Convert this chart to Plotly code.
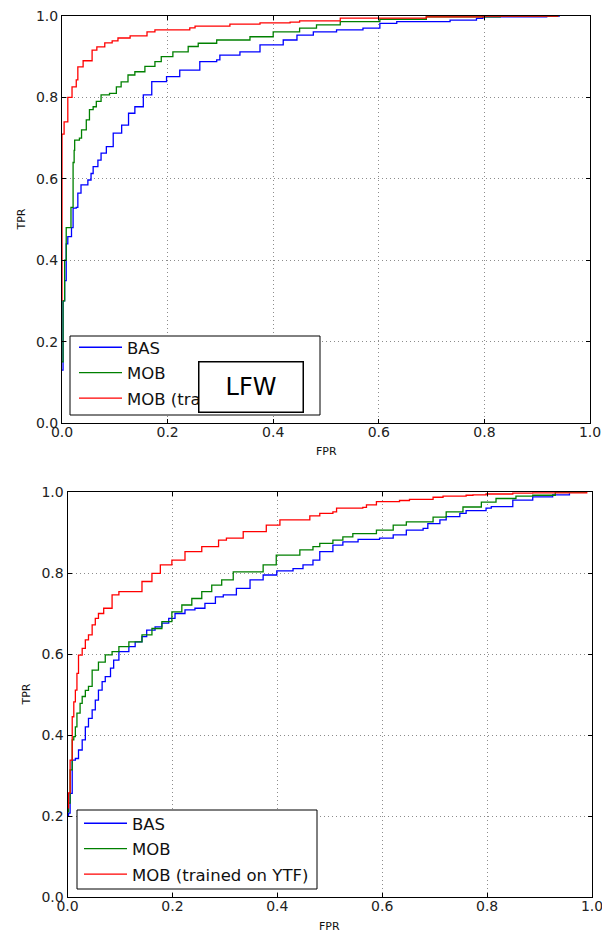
import plotly.graph_objects as go

# Figure fills the whole 602x938 window (the page body margin is removed
# by a small post script so nothing overflows).
WIN_W, WIN_H = 602, 938
OFF = 0
W, H = WIN_W - OFF, WIN_H - OFF

# ---------------- data ----------------
series_names = ["BAS", "MOB", "MOB (trained on YTF)"]
series_colors = ["#0000ff", "#008000", "#ff0000"]

# Top chart (LFW)
lfw_bas_fpr = [0.0, 0.002, 0.005, 0.008, 0.011, 0.018, 0.021, 0.027, 0.030, 0.036, 0.043, 0.049, 0.055,
               0.059, 0.068, 0.074, 0.084, 0.097, 0.113, 0.126, 0.138, 0.154, 0.170, 0.198, 0.223, 0.261,
               0.293, 0.299, 0.337, 0.375, 0.419, 0.445, 0.476, 0.520, 0.570, 0.602, 0.634, 0.735, 0.785,
               0.797, 0.918, 0.943]
lfw_bas_tpr = [0.13, 0.30, 0.35, 0.44, 0.458, 0.48, 0.528, 0.53, 0.565, 0.585, 0.585, 0.597, 0.613,
               0.63, 0.646, 0.663, 0.679, 0.712, 0.732, 0.761, 0.777, 0.806, 0.839, 0.851, 0.867, 0.888,
               0.892, 0.904, 0.912, 0.929, 0.941, 0.953, 0.961, 0.966, 0.970, 0.982, 0.986, 0.990, 0.994,
               0.998, 1.0, 1.0]

lfw_mob_fpr = [0.0, 0.002, 0.005, 0.008, 0.017, 0.017, 0.021, 0.021, 0.023, 0.024, 0.033, 0.037, 0.046,
               0.052, 0.059, 0.065, 0.074, 0.090, 0.103, 0.112, 0.125, 0.138, 0.157, 0.176, 0.188, 0.210,
               0.239, 0.258, 0.293, 0.356, 0.400, 0.450, 0.482, 0.527, 0.602, 0.690, 0.830, 0.940]
lfw_mob_tpr = [0.15, 0.30, 0.40, 0.48, 0.48, 0.53, 0.60, 0.64, 0.67, 0.695, 0.70, 0.72, 0.745,
               0.77, 0.777, 0.79, 0.806, 0.81, 0.826, 0.838, 0.855, 0.863, 0.876, 0.888, 0.90, 0.912,
               0.925, 0.933, 0.941, 0.949, 0.961, 0.970, 0.978, 0.986, 0.992, 0.998, 1.0, 1.0]

lfw_ytf_fpr = [0.0, 0.0, 0.004, 0.011, 0.019, 0.027, 0.030, 0.040, 0.049, 0.057, 0.066, 0.081, 0.095,
               0.106, 0.129, 0.152, 0.161, 0.176, 0.205, 0.242, 0.252, 0.318, 0.375, 0.432, 0.450, 0.527,
               0.690, 0.800, 0.940]
lfw_ytf_tpr = [0.30, 0.71, 0.74, 0.80, 0.826, 0.843, 0.875, 0.89, 0.89, 0.916, 0.924, 0.934, 0.939,
               0.946, 0.951, 0.951, 0.961, 0.966, 0.966, 0.971, 0.975, 0.980, 0.983, 0.985, 0.988, 0.995,
               0.998, 1.0, 1.0]

# Bottom chart (YTF)
ytf_bas_fpr = [0.0, 0.002, 0.005, 0.009, 0.015, 0.021, 0.028, 0.034, 0.040, 0.047, 0.053, 0.059, 0.066,
               0.072, 0.082, 0.088, 0.098, 0.117, 0.129, 0.142, 0.151, 0.167, 0.180, 0.193, 0.205, 0.224,
               0.243, 0.262, 0.282, 0.297, 0.322, 0.348, 0.373, 0.399, 0.430, 0.449, 0.468, 0.481, 0.506,
               0.525, 0.554, 0.595, 0.621, 0.646, 0.678, 0.687, 0.710, 0.722, 0.748, 0.760, 0.798, 0.808,
               0.849, 0.887, 0.925, 0.957]
ytf_bas_tpr = [0.20, 0.207, 0.256, 0.338, 0.342, 0.363, 0.388, 0.42, 0.441, 0.462, 0.486, 0.511, 0.532,
               0.544, 0.565, 0.585, 0.606, 0.618, 0.63, 0.643, 0.659, 0.667, 0.676, 0.688, 0.70, 0.709,
               0.713, 0.725, 0.741, 0.746, 0.762, 0.783, 0.795, 0.805, 0.811, 0.820, 0.832, 0.853, 0.869,
               0.877, 0.883, 0.886, 0.894, 0.906, 0.910, 0.922, 0.931, 0.939, 0.947, 0.954, 0.960, 0.964,
               0.980, 0.988, 0.993, 0.997]

ytf_mob_fpr = [0.0, 0.002, 0.005, 0.009, 0.012, 0.015, 0.018, 0.024, 0.028, 0.034, 0.040, 0.047, 0.053,
               0.059, 0.072, 0.085, 0.098, 0.117, 0.142, 0.161, 0.180, 0.199, 0.218, 0.237, 0.256, 0.275,
               0.294, 0.316, 0.373, 0.398, 0.443, 0.468, 0.481, 0.506, 0.525, 0.544, 0.589, 0.621, 0.646,
               0.697, 0.722, 0.754, 0.789, 0.817, 0.855, 0.887, 0.930, 0.990]
ytf_mob_tpr = [0.21, 0.232, 0.314, 0.388, 0.396, 0.42, 0.454, 0.478, 0.495, 0.51, 0.52, 0.56, 0.56,
               0.58, 0.598, 0.606, 0.618, 0.63, 0.647, 0.663, 0.68, 0.704, 0.721, 0.737, 0.754, 0.77,
               0.783, 0.803, 0.82, 0.844, 0.857, 0.865, 0.873, 0.881, 0.889, 0.897, 0.906, 0.918, 0.926,
               0.938, 0.951, 0.963, 0.975, 0.984, 0.990, 0.992, 1.0, 1.0]

ytf_ytf_fpr = [0.0, 0.002, 0.005, 0.009, 0.012, 0.015, 0.018, 0.021, 0.028, 0.034, 0.040, 0.047, 0.053,
               0.059, 0.069, 0.085, 0.098, 0.126, 0.142, 0.161, 0.177, 0.199, 0.224, 0.256, 0.288, 0.303,
               0.335, 0.379, 0.405, 0.462, 0.481, 0.506, 0.513, 0.563, 0.570, 0.589, 0.633, 0.652, 0.697,
               0.716, 0.760, 0.773, 0.798, 0.849, 0.887, 0.990]
ytf_ytf_tpr = [0.22, 0.257, 0.338, 0.445, 0.482, 0.511, 0.552, 0.597, 0.614, 0.635, 0.647, 0.672, 0.688,
               0.70, 0.713, 0.746, 0.754, 0.754, 0.779, 0.799, 0.82, 0.832, 0.853, 0.865, 0.881, 0.886,
               0.902, 0.918, 0.931, 0.941, 0.947, 0.951, 0.96, 0.962, 0.968, 0.976, 0.979, 0.982, 0.987,
               0.99, 0.992, 0.993, 0.995, 0.997, 0.998, 1.0]

tick_vals = [0.0, 0.2, 0.4, 0.6, 0.8, 1.0]
tick_text = ["0.0", "0.2", "0.4", "0.6", "0.8", "1.0"]
x_title, y_title = "FPR", "TPR"
inset_label = "LFW"

# ---------------- layout geometry (reference window pixels) ----------------
top_px = dict(x0=62, x1=590, y0=16, y1=423, ytx=21,
              box=(70, 336, 320, 415), leg_item0=348)
bot_px = dict(x0=67.5, x1=592, y0=492, y1=897, ytx=26,
              box=(77, 810, 317, 889), leg_item0=824)

def px_x(v):
    return (v - OFF) / W

def px_y(v):
    return 1 - (v - OFF) / H

def xdom(p):
    return [px_x(p["x0"]), px_x(p["x1"])]

def ydom(p):
    return [px_y(p["y1"]), px_y(p["y0"])]

FONT = "DejaVu Sans"
fig = go.Figure()

top_series = [(lfw_bas_fpr, lfw_bas_tpr), (lfw_mob_fpr, lfw_mob_tpr), (lfw_ytf_fpr, lfw_ytf_tpr)]
bot_series = [(ytf_bas_fpr, ytf_bas_tpr), (ytf_mob_fpr, ytf_mob_tpr), (ytf_ytf_fpr, ytf_ytf_tpr)]

for i, (fx, ty) in enumerate(top_series):
    fig.add_trace(go.Scatter(x=fx, y=ty, mode="lines", name=series_names[i],
                             line=dict(color=series_colors[i], width=1.3, shape="hv"),
                             xaxis="x", yaxis="y", legend="legend", legendgroup="t%d" % i))
for i, (fx, ty) in enumerate(bot_series):
    fig.add_trace(go.Scatter(x=fx, y=ty, mode="lines", name=series_names[i],
                             line=dict(color=series_colors[i], width=1.3, shape="hv"),
                             xaxis="x2", yaxis="y2", legend="legend2", legendgroup="b%d" % i))

axis_common = dict(range=[0, 1], tickvals=tick_vals, ticktext=tick_text, automargin=False,
                   showgrid=True, gridcolor="#8c8c8c", griddash="1px,3px", gridwidth=1,
                   showline=True, linecolor="#000", linewidth=1, mirror="ticks",
                   ticks="inside", ticklen=4, tickcolor="#000",
                   ticklabeloverflow="allow",
                   tickfont=dict(family=FONT, size=14, color="#222"),
                   zeroline=False, fixedrange=True)

legend_common = dict(font=dict(family=FONT, size=16.5, color="#111"), bgcolor="rgba(0,0,0,0)",
                     borderwidth=0, xanchor="left", yanchor="top",
                     tracegroupgap=1, itemwidth=43)

fig.update_layout(
    width=W, height=H, margin=dict(l=0, r=0, t=0, b=0, pad=0, autoexpand=False),
    paper_bgcolor="white", plot_bgcolor="white",
    xaxis=dict(domain=xdom(top_px), anchor="y", ticklabelstandoff=-4, **axis_common),
    yaxis=dict(domain=ydom(top_px), anchor="x", **axis_common),
    xaxis2=dict(domain=xdom(bot_px), anchor="y2", ticklabelstandoff=-4, **axis_common),
    yaxis2=dict(domain=ydom(bot_px), anchor="x2", **axis_common),
    legend=dict(x=px_x(top_px["box"][0] + 4), y=px_y(top_px["leg_item0"] - 18), **legend_common),
    legend2=dict(x=px_x(bot_px["box"][0] + 2), y=px_y(bot_px["leg_item0"] - 18), **legend_common),
    showlegend=True,
)

shapes = []
annotations = []
for p in (top_px, bot_px):
    bx0, by0, bx1, by1 = p["box"]
    shapes.append(dict(type="rect", xref="paper", yref="paper", layer="above",
                       x0=px_x(bx0), x1=px_x(bx1), y0=px_y(by1), y1=px_y(by0),
                       fillcolor="white", line=dict(color="#000", width=1)))
    annotations.append(dict(text=x_title, xref="paper", yref="paper",
                            x=px_x((p["x0"] + p["x1"]) / 2), y=px_y(p["y1"] + 29),
                            xanchor="center", yanchor="middle", showarrow=False,
                            font=dict(family=FONT, size=11, color="#111")))
    annotations.append(dict(text=y_title, xref="paper", yref="paper", textangle=-90,
                            x=px_x(p["ytx"]), y=px_y((p["y0"] + p["y1"]) / 2),
                            xanchor="center", yanchor="middle", showarrow=False,
                            font=dict(family=FONT, size=11, color="#111")))
annotations.append(dict(text=inset_label, xref="paper", yref="paper",
                        x=px_x(250.5), y=px_y(386.5), xanchor="center", yanchor="middle",
                        showarrow=False, width=103, height=49, borderpad=0, borderwidth=1.5,
                        bordercolor="#000", bgcolor="white",
                        font=dict(family=FONT, size=24, color="#000")))
fig.update_layout(shapes=shapes, annotations=annotations)

fig.write_html("out.html", config={"displayModeBar": False, "staticPlot": True},
               post_script="document.body.style.margin='0';document.body.style.overflow='hidden';")
